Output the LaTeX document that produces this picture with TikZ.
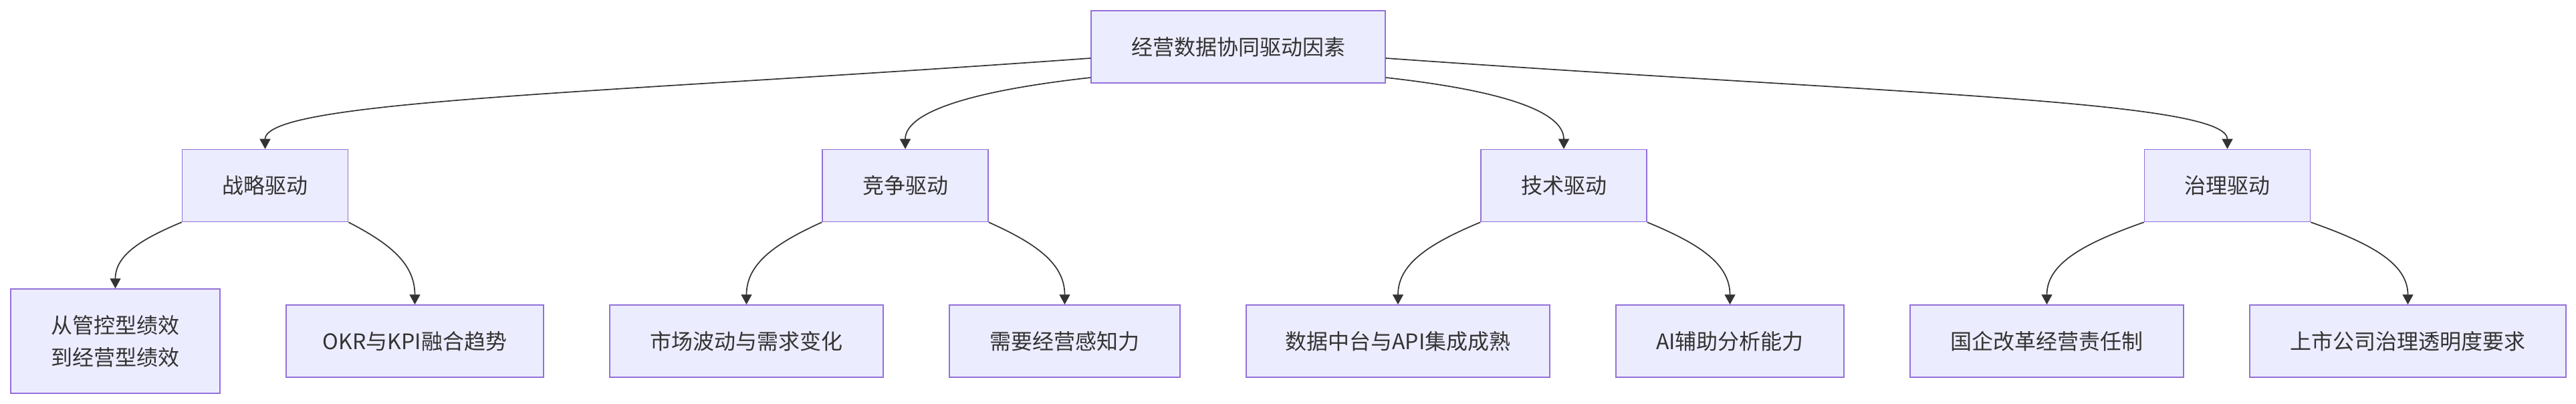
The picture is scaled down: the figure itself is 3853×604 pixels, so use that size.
\documentclass[tikz,border=0pt]{standalone}
\usepackage{fontspec}
\newfontfamily\cjkfont{Noto Sans CJK SC}
\usetikzlibrary{arrows.meta,calc}
\definecolor{nodefill}{HTML}{ECECFF}
\definecolor{nodeline}{HTML}{9370DB}
\definecolor{txt}{HTML}{333333}
\definecolor{edge}{HTML}{333333}
\tikzset{
  box/.style={draw=nodeline, fill=nodefill, line width=0.75pt, inner sep=0pt,
    text=txt, font=\cjkfont\fontsize{16}{24}\selectfont, align=center,
    minimum height=54pt},
  conn/.style={draw=edge, line width=0.85pt, -{Triangle[length=7.5pt,width=8pt]}}
}
\begin{document}
\begin{tikzpicture}[x=0.5pt,y=-0.5pt]
\useasboundingbox (0,0) rectangle (3853,604);
% top
\node[box, minimum width=220pt] (top) at (1852,70) {经营数据协同驱动因素};
% level 2
\node[box, minimum width=124pt] (s1) at (396.5,277.5) {战略驱动};
\node[box, minimum width=124pt] (s2) at (1354,277.5) {竞争驱动};
\node[box, minimum width=124pt] (s3) at (2339,277.5) {技术驱动};
\node[box, minimum width=124pt] (s4) at (3331.5,277.5) {治理驱动};
% leaves
\node[box, minimum width=156.5pt, minimum height=78pt] (l1) at (172.5,510) {从管控型绩效\\到经营型绩效};
\node[box, minimum width=192.5pt] (l2) at (620.5,510) {OKR与KPI融合趋势};
\node[box, minimum width=204.5pt] (l3) at (1116.5,510) {市场波动与需求变化};
\node[box, minimum width=172.5pt] (l4) at (1592.5,510) {需要经营感知力};
\node[box, minimum width=227pt] (l5) at (2091,510) {数据中台与API集成成熟};
\node[box, minimum width=170.5pt] (l6) at (2587.5,510) {AI辅助分析能力};
\node[box, minimum width=204.5pt] (l7) at (3061.5,510) {国企改革经营责任制};
\node[box, minimum width=236.5pt] (l8) at (3601.5,510) {上市公司治理透明度要求};
% top edges
\draw[conn] ($(top.west)+(0,17)$) .. controls +(-732,53) and +(0,-73) .. (s1.north);
\draw[conn] ($(top.west)+(0,46)$) .. controls +(-180,20) and +(0,-55) .. (s2.north);
\draw[conn] ($(top.east)+(0,46)$) .. controls +(180,20) and +(0,-55) .. (s3.north);
\draw[conn] ($(top.east)+(0,17)$) .. controls +(745,53) and +(0,-73) .. (s4.north);
% leaf edges
\draw[conn] (s1.south west) .. controls +(-60,25) and +(0,-50) .. (l1.north);
\draw[conn] (s1.south east) .. controls +(60,31) and +(0,-62) .. (l2.north);
\draw[conn] (s2.south west) .. controls +(-68,31) and +(0,-62) .. (l3.north);
\draw[conn] (s2.south east) .. controls +(69,31) and +(0,-62) .. (l4.north);
\draw[conn] (s3.south west) .. controls +(-74,31) and +(0,-62) .. (l5.north);
\draw[conn] (s3.south east) .. controls +(75,31) and +(0,-62) .. (l6.north);
\draw[conn] (s4.south west) .. controls +(-88,31) and +(0,-62) .. (l7.north);
\draw[conn] (s4.south east) .. controls +(88,31) and +(0,-62) .. (l8.north);
\end{tikzpicture}
\end{document}
